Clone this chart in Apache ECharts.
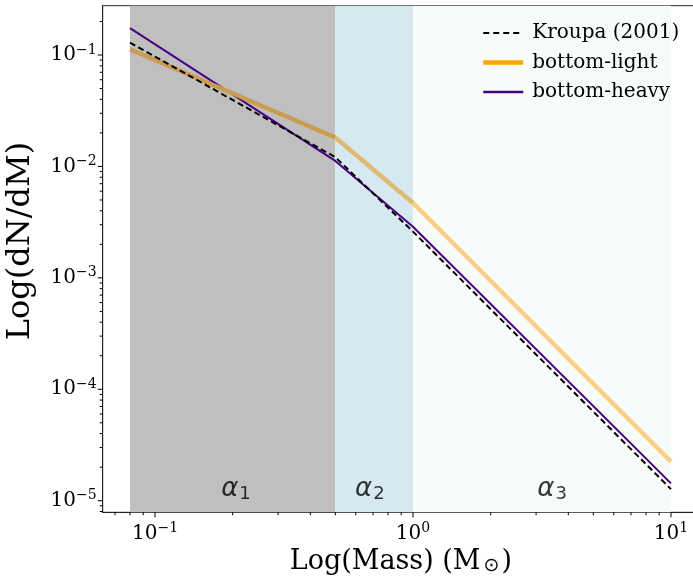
<!DOCTYPE html>
<html>
<head>
<meta charset="utf-8">
<script src="https://cdn.jsdelivr.net/npm/echarts@6/dist/echarts.min.js"></script>
<style>
html, body { margin: 0; padding: 0; background: #fff; }
#main { width: 693px; height: 577px; }
</style>
</head>
<body>
<div id="main"></div>
<script>
// break points of the IMFs (solar masses)
var mass = [0.08, 0.5, 1, 10];
var kroupa = [0.129, 0.0121, 0.0026, 1.27e-5];
var bottomLight = [0.1125, 0.0182, 0.0047, 2.24e-5];
var bottomHeavy = [0.174, 0.0112, 0.00288, 1.43e-5];

// shaded slope ranges
var ranges = [[0.08, 0.5], [0.5, 1], [1, 10]];
var rangeColors = ['#bfbfbf', '#d6e9f1', '#f7fcf9'];
// orange line as seen through each shaded range
var lightColors = ['#c99c50', '#dfba72', '#fbcf85'];
var alphaNames = ['1', '2', '3'];
var alphaMass = [0.206, 0.68, 3.46];
var alphaLevel = 1.27e-5;

// ticks
var xMajor = [0.1, 1, 10];
var xMinor = [0.07, 0.08, 0.09, 0.2, 0.3, 0.4, 0.5, 0.6, 0.7, 0.8, 0.9, 2, 3, 4, 5, 6, 7, 8, 9];
var yMajor = [1e-5, 1e-4, 1e-3, 1e-2, 1e-1];
var yMinor = [8e-6, 9e-6,
  2e-5, 3e-5, 4e-5, 5e-5, 6e-5, 7e-5, 8e-5, 9e-5,
  2e-4, 3e-4, 4e-4, 5e-4, 6e-4, 7e-4, 8e-4, 9e-4,
  2e-3, 3e-3, 4e-3, 5e-3, 6e-3, 7e-3, 8e-3, 9e-3,
  2e-2, 3e-2, 4e-2, 5e-2, 6e-2, 7e-2, 8e-2, 9e-2, 2e-1];

var serif = 'DejaVu Serif';

function pairs(xs, ys) {
  return xs.map(function (x, i) { return [x, ys[i]]; });
}

function powLabel(v) {
  var e = Math.log10(v);
  var r = Math.round(e);
  if (Math.abs(e - r) > 1e-6) return '';
  var s = r < 0 ? '\u2212' + (-r) : '' + r;
  return '{b|10}{e|' + s + '}';
}

var powRich = {
  b: { fontFamily: serif, fontSize: 20, color: '#000' },
  e: { fontFamily: serif, fontSize: 14, color: '#000', padding: [0, 0, 10, 0] }
};

// tick marks drawn outward from the axes
function tickSeries(values, isX, len) {
  return {
    type: 'custom',
    silent: true,
    clip: false,
    z: 5,
    data: values.map(function (v) { return isX ? [v, 1e-3] : [1, v]; }),
    renderItem: function (params, api) {
      var cs = params.coordSys;
      var p = api.coord([api.value(0), api.value(1)]);
      var shape;
      if (isX) {
        var yb = cs.y + cs.height;
        shape = { x1: p[0], y1: yb, x2: p[0], y2: yb + len };
      } else {
        shape = { x1: cs.x, y1: p[1], x2: cs.x - len, y2: p[1] };
      }
      return { type: 'line', shape: shape, style: { stroke: '#000', lineWidth: 1 } };
    }
  };
}

// bottom-light drawn piece by piece so each range gets its own tint
var lightSeries = ranges.map(function (r, i) {
  return {
    name: 'bottom-light', type: 'line', showSymbol: false, symbol: 'none', z: 3,
    data: pairs(mass.slice(i, i + 2), bottomLight.slice(i, i + 2)),
    lineStyle: { color: lightColors[i], width: 4.5 },
    itemStyle: { color: lightColors[i] }
  };
});

var myChart = echarts.init(document.getElementById('main'));

var option = {
  animation: false,
  backgroundColor: '#fff',
  grid: {
    left: 102.7, top: 5.7, right: -6, bottom: 64.7,
    outerBoundsMode: 'none', containLabel: false,
    show: true, borderColor: '#222', borderWidth: 1, backgroundColor: 'transparent'
  },
  legend: {
    data: [
      { name: 'Kroupa (2001)', lineStyle: { color: '#000', width: 2, type: [6, 4] } },
      { name: 'bottom-light', lineStyle: { color: '#ffa500', width: 4.5 } },
      { name: 'bottom-heavy', lineStyle: { color: '#4b0082', width: 2.5 } }
    ],
    itemStyle: { opacity: 0 },
    orient: 'vertical',
    left: 476, top: 18,
    itemWidth: 40, itemHeight: 14, itemGap: 9.5,
    textStyle: { fontFamily: serif, fontSize: 20, color: '#000', padding: [0, 0, 0, 4] }
  },
  xAxis: {
    type: 'log', logBase: 10, min: 0.0627, max: 12.84,
    name: '{n|Log(Mass) (M}{s|\u2299}{n|)}',
    nameLocation: 'middle', nameGap: 25,
    nameTextStyle: {
      rich: {
        n: { fontFamily: serif, fontSize: 27, color: '#000' },
        s: { fontFamily: 'DejaVu Sans', fontSize: 19, color: '#000', padding: [8, 2, 0, 3] }
      }
    },
    axisLine: { show: true, lineStyle: { color: '#222', width: 1 } },
    axisTick: { show: false },
    splitLine: { show: false },
    axisLabel: { formatter: powLabel, rich: powRich, margin: 9 }
  },
  yAxis: {
    type: 'log', logBase: 10, min: 7.87e-6, max: 0.277,
    name: 'Log(dN/dM)',
    nameLocation: 'middle', nameGap: 66, nameRotate: 90,
    nameTextStyle: { fontFamily: serif, fontSize: 32, color: '#000', padding: [0, 0, 0, 36] },
    axisLine: { show: true, lineStyle: { color: '#222', width: 1 } },
    axisTick: { show: false },
    splitLine: { show: false },
    axisLabel: { formatter: powLabel, rich: powRich, margin: 6 }
  },
  series: [
    {
      name: 'Kroupa (2001)', type: 'line', showSymbol: false, symbol: 'none', z: 4,
      data: pairs(mass, kroupa),
      lineStyle: { color: '#000', width: 2, type: [6, 3.5] },
      itemStyle: { color: '#000' },
      markArea: {
        silent: true,
        data: ranges.map(function (r, i) {
          return [{ xAxis: r[0], itemStyle: { color: rangeColors[i] } }, { xAxis: r[1] }];
        })
      }
    },
    {
      name: 'bottom-heavy', type: 'line', showSymbol: false, symbol: 'none', z: 3,
      data: pairs(mass, bottomHeavy),
      lineStyle: { color: '#4b0082', width: 2 },
      itemStyle: { color: '#4b0082' }
    },
    {
      name: 'alpha', type: 'scatter', symbolSize: 0, silent: true, z: 6,
      data: alphaMass.map(function (m, i) { return { value: [m, alphaLevel], name: alphaNames[i] }; }),
      label: {
        show: true, position: 'inside',
        formatter: function (p) { return '{a|\u03b1}{s|' + p.name + '}'; },
        rich: {
          a: { fontFamily: 'DejaVu Sans', fontStyle: 'italic', fontSize: 26, color: '#000' },
          s: { fontFamily: 'DejaVu Sans', fontSize: 18, color: '#000', padding: [10, 0, 0, 1] }
        }
      }
    },
    tickSeries(xMajor, true, 5),
    tickSeries(xMinor, true, 3),
    tickSeries(yMajor, false, 5),
    tickSeries(yMinor, false, 3)
  ].concat(lightSeries)
};

myChart.setOption(option);
</script>
</body>
</html>
